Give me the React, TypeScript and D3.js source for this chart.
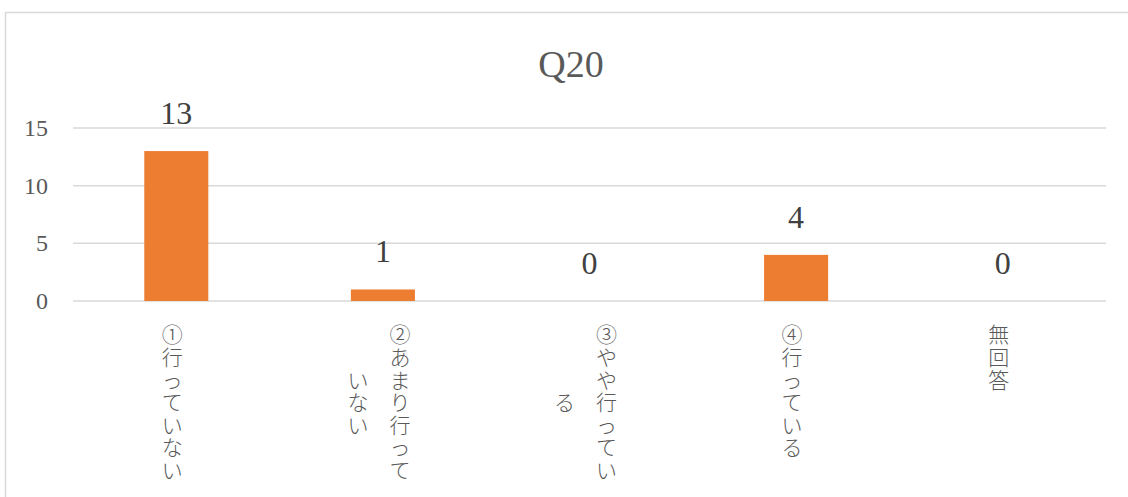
import React, { useEffect, useRef } from 'react';
import * as d3 from 'd3';

// chart data
const categories = ['c1', 'c2', 'c3', 'c4', 'c5'];
const categoryLabels: string[][] = [
  ['①行っていない'],
  ['②あまり行って', 'いない'],
  ['③やや行ってい', 'る'],
  ['④行っている'],
  ['無回答'],
];
const counts = [13, 1, 0, 4, 0];
const yTicks = [0, 5, 10, 15];
const chartTitle = 'Q20';

const W = 1128;
const H = 497;
const SERIF = '"Liberation Serif", "DejaVu Serif", serif';
const JP = '"Noto Sans CJK JP", "Noto Sans", sans-serif';
const TEXT = '#595959';
const GRID = '#d9d9d9';
const BAR = '#ED7D31';

export default function App() {
  const ref = useRef<SVGSVGElement | null>(null);

  useEffect(() => {
    if (!ref.current) return;
    const svg = d3.select(ref.current);
    svg.selectAll('*').remove();

    // chart frame
    svg.append('rect')
      .attr('x', 5.5).attr('y', 12.5)
      .attr('width', W + 20).attr('height', H + 20)
      .attr('fill', '#fff').attr('stroke', GRID).attr('stroke-width', 1.5);

    const x = d3.scaleBand<string>().domain(categories).range([73, 1106]);
    const y = d3.scaleLinear().domain([0, 15]).range([301, 128]);
    const barW = x.bandwidth() * 0.31;

    // title
    svg.append('text')
      .attr('x', 571).attr('y', 77)
      .attr('text-anchor', 'middle')
      .style('font-family', SERIF).style('font-size', '38px')
      .attr('fill', TEXT)
      .text(chartTitle);

    // gridlines
    svg.append('g')
      .selectAll('line')
      .data(yTicks)
      .enter()
      .append('line')
      .attr('x1', 73).attr('x2', 1106)
      .attr('y1', (d) => y(d)).attr('y2', (d) => y(d))
      .attr('stroke', GRID).attr('stroke-width', 1.5);

    // y tick labels
    svg.append('g')
      .selectAll('text')
      .data(yTicks)
      .enter()
      .append('text')
      .attr('x', 48).attr('y', (d) => y(d) + 8)
      .attr('text-anchor', 'end')
      .style('font-family', SERIF).style('font-size', '24px')
      .attr('fill', TEXT)
      .text((d) => d);

    // bars
    svg.append('g')
      .selectAll('rect')
      .data(counts)
      .enter()
      .append('rect')
      .attr('x', (d, i) => x(categories[i])! + x.bandwidth() / 2 - barW / 2)
      .attr('y', (d) => y(d))
      .attr('width', barW)
      .attr('height', (d) => y(0) - y(d))
      .attr('fill', BAR);

    // value labels
    svg.append('g')
      .selectAll('text')
      .data(counts)
      .enter()
      .append('text')
      .attr('x', (d, i) => x(categories[i])! + x.bandwidth() / 2)
      .attr('y', (d) => y(d) - 27)
      .attr('text-anchor', 'middle')
      .style('font-family', SERIF).style('font-size', '32px')
      .attr('fill', '#404040')
      .text((d) => d);

    // vertical category labels, one glyph per text; columns centred in a top-aligned block
    const step = 22.6;
    const top = 322;
    const colGap = 42;
    categoryLabels.forEach((cols, i) => {
      const cx = x(categories[i])! + x.bandwidth() / 2 - 4;
      const chars = cols.map((c) => Array.from(c));
      const maxLen = d3.max(chars, (c) => c.length) || 0;
      const blockMid = top + (maxLen * step) / 2;
      const g = svg.append('g');
      chars.forEach((col, j) => {
        const colX = cx + ((cols.length - 1) / 2 - j) * colGap;
        const start = blockMid - (col.length * step) / 2;
        g.selectAll(null)
          .data(col)
          .enter()
          .append('text')
          .attr('x', colX)
          .attr('y', (d, k) => start + k * step + step / 2)
          .attr('text-anchor', 'middle')
          .attr('dominant-baseline', 'central')
          .style('font-family', JP).style('font-size', '21px').style('font-weight', 300)
          .attr('fill', TEXT)
          .text((d) => d);
      });
    });
  }, []);

  return (
    <svg
      ref={ref}
      width={W}
      height={H}
      style={{ position: 'absolute', left: 0, top: 0, background: '#fff' }}
    />
  );
}
